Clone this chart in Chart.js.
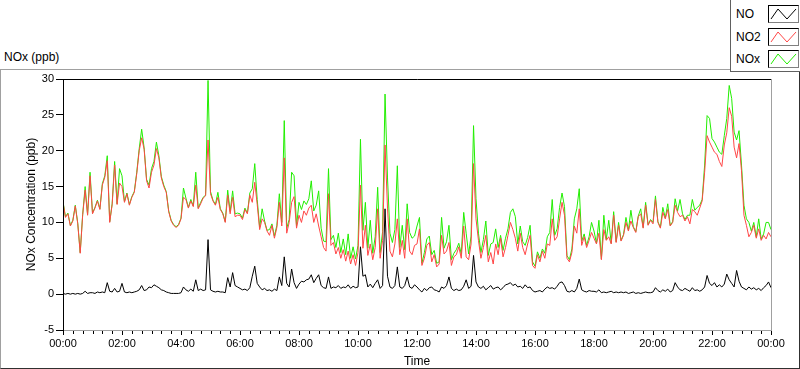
<!DOCTYPE html>
<html lang="en">
<head>
<meta charset="UTF-8">
<title>NOx (ppb)</title>
<script src="https://cdn.jsdelivr.net/npm/chart.js"></script>
<style>
  body { margin: 0; background: #fff; font-family: "Liberation Sans", Arial, sans-serif; color: #000; }
  #wrap { position: relative; width: 800px; height: 369px; overflow: hidden; }
  #frame { position: absolute; left: 0; top: 69px; width: 800px; height: 300px; box-sizing: border-box;
           border-top: 1px solid #a0a0a0; border-left: 1px solid #a0a0a0;
           border-right: 1px solid #303030; border-bottom: 1px solid #303030; }
  #title { position: absolute; left: 4px; top: 50px; font-size: 12px; }
  #legend { position: absolute; left: 730px; top: 0; width: 70px; height: 72px; box-sizing: border-box;
            background: #fff; border-left: 1px solid #606060; border-bottom: 1px solid #606060; }
  .row { position: absolute; left: 5px; font-size: 12px; }
  .sw { position: absolute; left: 37px; width: 31px; height: 18px; box-sizing: border-box;
        border: 1px solid #000; border-right-color: #808080; border-bottom-color: #808080; background: #fff; }
  canvas { position: absolute; left: 0; top: 0; }
</style>
</head>
<body>
<div id="wrap">
  <div id="frame"></div>
  <div id="title">NOx (ppb)</div>
  <canvas id="noxChart" width="800" height="369"></canvas>
  <div id="legend"></div>
</div>
<script>
// one value every 5 minutes, one row per hour, 00:00 .. 24:00
const no = [
  0.1,0.0,0.1,0.0,0.1,0.0,0.1,0.0,0.1,0.4,0.1,0.2,
  0.2,0.1,0.3,0.2,0.3,0.2,1.6,0.4,0.3,0.8,0.3,0.4,
  1.5,0.3,0.2,0.3,0.2,0.3,0.4,0.6,1.2,0.5,0.6,1.0,
  0.9,1.3,1.1,0.9,0.6,0.5,0.3,0.2,0.1,0.1,0.1,0.1,
  0.2,1.0,0.6,0.4,0.7,0.4,2.0,0.5,0.7,0.5,0.6,7.6,
  0.6,0.4,0.3,0.4,0.3,0.3,0.2,2.3,1.0,3.0,1.2,1.0,
  0.8,0.6,0.7,0.5,0.9,2.5,3.9,1.5,1.0,0.6,0.8,0.5,
  0.6,0.4,0.7,0.5,2.4,1.2,5.2,1.5,1.0,3.5,1.6,0.8,
  1.4,1.8,1.7,2.0,2.1,2.7,1.6,2.2,2.7,1.2,0.9,0.8,
  2.4,0.8,1.0,0.9,1.2,0.8,1.0,0.9,1.3,0.8,1.1,0.9,
  1.0,6.6,2.5,2.7,1.0,1.4,0.9,1.5,2.0,0.8,1.2,11.9,
  2.5,1.0,0.8,1.2,3.8,1.0,0.8,1.2,2.4,1.0,0.8,1.3,
  1.0,0.6,0.3,0.8,0.5,0.9,1.0,0.6,0.5,0.3,1.0,0.8,
  1.2,2.4,0.8,0.5,0.7,0.5,0.6,1.1,2.0,0.8,1.1,5.4,
  1.7,1.0,0.8,1.1,0.6,0.9,1.2,0.7,0.9,1.0,0.6,0.9,
  1.3,1.4,1.6,1.2,1.4,1.0,1.1,0.8,1.3,0.9,1.0,0.5,
  0.3,0.4,0.5,0.3,0.7,1.0,0.8,0.9,0.7,1.1,1.6,1.7,
  1.2,0.4,0.3,0.5,0.3,0.8,2.1,0.6,0.4,0.3,0.5,0.4,
  0.4,0.3,0.6,0.2,0.3,0.2,0.3,0.4,0.2,0.3,0.2,0.3,
  0.2,0.3,0.1,0.2,0.3,0.1,0.2,0.1,0.2,0.3,0.2,0.2,
  0.3,0.9,0.5,0.3,0.6,0.4,0.7,0.3,0.5,1.6,1.0,0.6,
  0.5,0.8,0.6,0.4,0.9,0.5,0.6,0.4,0.6,1.0,2.6,1.5,
  1.2,1.6,1.0,1.3,1.0,1.4,2.8,2.0,1.5,1.0,3.3,1.8,
  1.0,0.8,0.6,1.0,0.7,0.9,0.6,0.8,0.5,0.9,1.2,1.7,
  0.9
];
const no2 = [
  12.8,10.7,11.2,9.5,10.2,12.3,9.8,5.7,11.0,14.5,11.0,16.5,
  11.2,12.0,13.0,11.8,15.2,16.3,18.6,10.0,12.5,18.0,12.5,15.5,
  15.0,12.8,14.0,12.4,13.5,14.2,16.8,20.0,21.8,20.2,15.8,14.8,
  17.0,18.0,20.3,19.0,16.2,15.0,14.2,11.5,10.2,9.6,9.3,9.6,
  10.5,13.5,13.2,12.0,13.0,12.2,15.2,11.9,12.6,13.4,13.7,21.5,
  14.0,13.0,12.4,13.5,11.8,11.2,10.0,13.8,11.2,13.5,10.8,11.0,
  11.0,10.4,11.8,11.2,13.8,12.8,15.6,12.5,9.0,10.5,10.0,8.8,
  8.2,9.6,7.8,9.3,12.8,9.5,19.0,8.5,10.0,12.8,13.6,9.2,
  11.0,10.0,11.6,11.0,12.0,12.4,10.0,11.2,9.5,8.0,6.5,6.0,
  14.0,6.8,7.2,5.6,6.5,5.0,6.2,4.6,6.0,4.2,5.5,4.0,
  5.8,15.2,6.4,9.6,5.4,7.0,4.8,6.5,11.9,5.0,7.5,20.8,
  12.0,6.0,5.2,7.0,10.5,5.5,7.5,5.0,10.5,6.0,5.5,6.8,
  7.0,9.1,4.0,5.0,6.8,7.2,4.5,5.5,3.8,4.2,8.2,5.6,
  6.0,7.2,4.0,5.2,5.5,6.6,5.0,9.5,5.2,4.8,7.0,18.2,
  10.5,7.5,5.0,6.5,8.2,4.5,5.8,4.2,7.0,5.5,7.8,5.2,
  6.5,8.2,10.0,9.0,7.8,6.0,8.5,6.5,5.5,7.0,8.2,4.0,
  3.6,5.5,4.5,6.0,5.0,7.0,6.8,10.5,7.5,8.0,10.5,12.8,
  11.0,5.0,4.5,5.8,9.5,8.5,11.9,6.8,8.0,6.5,7.5,8.6,
  7.8,7.0,8.5,4.8,9.0,7.5,8.0,7.0,11.0,7.2,9.6,7.4,
  8.2,10.0,8.8,10.2,9.3,8.6,10.8,11.2,9.2,12.4,9.6,10.3,
  9.8,13.2,10.0,9.2,11.4,10.5,11.8,9.5,10.0,12.4,11.4,10.8,
  11.0,10.2,10.8,9.8,11.8,11.5,11.0,12.0,13.0,17.0,22.1,21.2,
  20.5,19.8,19.5,18.5,17.8,20.8,22.5,26.0,24.8,20.5,19.0,21.0,
  17.2,11.0,9.6,8.0,8.6,9.6,7.8,9.1,7.5,8.2,7.7,8.6,
  8.0
];
const nox = [
  12.9,10.8,11.3,9.6,10.3,12.4,9.9,5.8,11.1,15.0,11.1,17.0,
  11.3,12.1,13.1,11.9,15.4,16.5,19.3,10.1,12.6,18.5,12.6,17.5,
  16.5,12.9,14.1,12.5,13.6,14.3,17.0,20.3,23.0,20.4,16.0,15.2,
  17.5,18.5,21.2,19.3,16.4,15.2,14.3,11.6,10.3,9.7,9.4,9.7,
  10.6,14.8,13.4,12.1,13.2,12.3,17.0,12.0,12.8,13.5,13.8,29.8,
  14.3,13.1,12.5,14.2,11.9,11.3,10.1,14.5,11.5,14.4,11.2,11.3,
  11.2,10.6,12.0,11.3,14.1,14.7,18.2,13.2,9.3,11.9,10.2,8.9,
  9.0,9.8,8.1,9.6,14.0,10.0,24.2,9.2,10.4,17.0,16.5,9.5,
  12.8,11.8,13.0,12.5,13.3,15.8,11.6,12.4,14.4,9.2,7.4,7.3,
  17.5,7.6,8.2,6.5,8.5,5.8,7.7,5.5,8.4,5.0,6.6,4.9,
  6.8,21.6,8.9,12.8,6.4,10.3,5.7,8.0,14.9,5.8,8.7,27.9,
  16.2,8.5,7.2,9.0,17.9,6.5,9.6,6.2,12.6,8.6,7.8,8.1,
  9.5,10.7,4.3,5.8,7.7,8.1,5.5,6.1,4.3,4.5,10.7,6.4,
  7.3,9.6,4.8,5.7,6.2,7.1,5.6,11.4,8.5,5.6,8.1,23.5,
  13.3,8.5,5.8,7.6,10.2,5.4,7.0,7.2,9.1,6.5,8.2,6.1,
  7.8,9.1,11.4,11.9,10.8,7.0,9.5,7.3,6.8,7.9,9.6,4.5,
  3.9,5.9,5.0,6.3,5.7,8.0,8.6,13.2,8.2,9.1,12.1,14.1,
  12.2,5.4,4.8,6.3,10.5,11.9,14.7,7.4,8.4,6.8,8.0,10.0,
  8.8,7.1,10.3,4.9,11.0,7.6,10.3,7.1,11.5,7.3,10.0,7.5,
  8.3,10.7,8.9,11.7,9.4,8.7,10.9,11.9,9.3,12.8,9.7,10.4,
  10.0,13.7,10.1,9.3,12.1,10.6,12.6,9.6,10.1,13.3,11.6,13.2,
  11.2,10.4,11.0,11.0,13.2,11.7,12.1,12.4,13.2,18.0,24.9,24.5,
  21.7,21.2,20.5,19.8,19.5,22.1,24.5,29.1,27.3,22.6,21.5,22.8,
  18.0,12.4,10.5,10.0,8.8,10.0,8.0,10.5,7.7,8.4,10.0,10.0,
  9.0
];
const stepMinutes = 5;
const majorTicks = [0, 120, 240, 360, 480, 600, 720, 840, 960, 1080, 1200, 1320, 1440];
const seriesNames = ['NO', 'NO2', 'NOx'];
const seriesColors = ['#000000', '#ff4646', '#22ee00'];

const minutes = no.map((_, i) => i * stepMinutes);
const pts = arr => arr.map((v, i) => ({ x: minutes[i], y: v }));

// legend, drawn LabVIEW style
const legend = document.getElementById('legend');
seriesNames.forEach((name, i) => {
  const top = 5 + i * 22.5;
  legend.insertAdjacentHTML('beforeend',
    `<div class="row" style="top:${top}px;line-height:18px">${name}</div>` +
    `<div class="sw" style="top:${top}px"><svg width="29" height="16">` +
    `<polyline points="2,13 9,3 18,13 27,3" fill="none" stroke="${seriesColors[i]}" stroke-width="1"/></svg></div>`);
});

const plotFrame = {
  id: 'plotFrame',
  afterDraw(c) {
    const { ctx, chartArea: a } = c;
    const xs = c.scales.x;
    ctx.save();
    ctx.lineWidth = 1;
    ctx.strokeStyle = '#000';
    ctx.beginPath();
    ctx.moveTo(a.left + 0.5, a.bottom);
    ctx.lineTo(a.left + 0.5, a.top + 0.5);
    ctx.lineTo(a.right, a.top + 0.5);
    ctx.stroke();
    ctx.strokeStyle = '#a0a0a0';
    ctx.beginPath();
    ctx.moveTo(a.right + 0.5, a.top);
    ctx.lineTo(a.right + 0.5, a.bottom + 0.5);
    ctx.stroke();
    // minor ticks every 20 min
    ctx.strokeStyle = '#000';
    ctx.beginPath();
    for (let m = 20; m < 1440; m += 20) {
      if (m % 120 === 0) continue;
      const px = Math.round(xs.getPixelForValue(m)) + 0.5;
      ctx.moveTo(px, a.bottom + 1);
      ctx.lineTo(px, a.bottom + 4);
    }
    ctx.stroke();
    ctx.restore();
  }
};

const ctx = document.getElementById('noxChart').getContext('2d');
new Chart(ctx, {
  type: 'line',
  data: {
    datasets: [
      { label: 'NO', data: pts(no), borderColor: seriesColors[0] },
      { label: 'NO2', data: pts(no2), borderColor: seriesColors[1] },
      { label: 'NOx', data: pts(nox), borderColor: seriesColors[2] }
    ]
  },
  options: {
    responsive: false,
    animation: false,
    layout: { padding: { top: 79, right: 29, left: 0, bottom: 0 } },
    elements: { line: { borderWidth: 1, tension: 0 }, point: { radius: 0 } },
    plugins: { legend: { display: false }, tooltip: { enabled: false } },
    scales: {
      x: {
        type: 'linear', min: 0, max: 1440,
        afterFit: s => { s.height = 39; },
        afterBuildTicks: s => { s.ticks = majorTicks.map(v => ({ value: v })); },
        grid: { drawOnChartArea: false, tickLength: 5, color: '#000' },
        border: { color: '#a0a0a0' },
        ticks: {
          autoSkip: false, maxRotation: 0, padding: 2, color: '#000',
          font: { family: 'Liberation Sans', size: 11 },
          callback: v => String((v / 60) % 24).padStart(2, '0') + ':00'
        },
        title: { display: true, text: 'Time', color: '#000', padding: 0,
                 font: { family: 'Liberation Sans', size: 12 } }
      },
      y: {
        min: -5, max: 30,
        afterFit: s => { s.width = 63; },
        grid: { drawOnChartArea: false, tickLength: 7, color: '#000' },
        border: { color: '#000' },
        ticks: { stepSize: 5, padding: 2, color: '#000', font: { family: 'Liberation Sans', size: 11 } },
        title: { display: true, text: 'NOx Concentration (ppb)', color: '#000',
                 padding: { top: 24, bottom: 0 }, font: { family: 'Liberation Sans', size: 12 } }
      }
    }
  },
  plugins: [plotFrame]
});
</script>
</body>
</html>
